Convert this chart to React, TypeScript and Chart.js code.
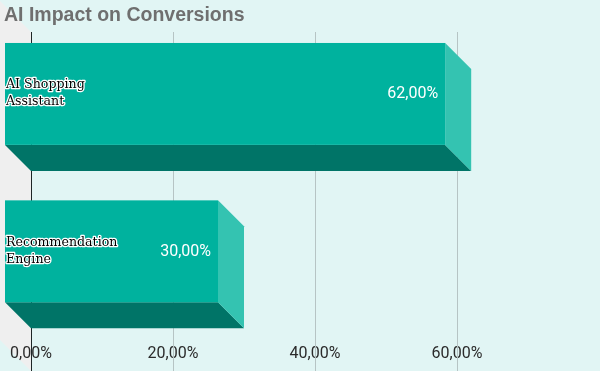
import React, { useEffect, useRef } from "react";
import { Chart, registerables } from "chart.js";

Chart.register(...registerables);

const titleText = "AI Impact on Conversions";
const categories: string[][] = [
  ["AI Shopping", "Assistant"],
  ["Recommendation", "Engine"],
];
const values: number[] = [62, 30];
const xMin = 0;
const xMax = 80;
const xStep = 20;
const hiddenTicks: number[] = [80];

const fmt = (v: number) => v.toFixed(2).replace(".", ",") + "%";

const BG = "#E1F5F4";
const WALL = "#EFEFEF";
const FRONT = "#00B29E";
const SIDE = "#34C3B1";
const BOTTOM = "#007467";
const GRID = "#B6C4C4";
const ZERO = "#1E2626";
const DEPTH = 26;
const NUM_FONT = "Roboto";

const threeD = {
  id: "threeD",
  beforeDraw(chart: any) {
    const { ctx, width, height } = chart;
    const xs = chart.scales.x;
    ctx.save();
    ctx.fillStyle = BG;
    ctx.fillRect(0, 0, width, height);
    const x0 = xs.getPixelForValue(0);
    // left wall
    ctx.fillStyle = WALL;
    ctx.beginPath();
    ctx.moveTo(x0 - 31 - DEPTH, 1 - DEPTH);
    ctx.lineTo(x0, 32);
    ctx.lineTo(x0, height);
    ctx.lineTo(x0 - 31 - DEPTH, height - 31 - DEPTH);
    ctx.closePath();
    ctx.fill();
    ctx.restore();
  },
  beforeDatasetsDraw(chart: any) {
    const { ctx, height } = chart;
    const xs = chart.scales.x;
    ctx.save();
    ctx.lineWidth = 1;
    xs.ticks.forEach((t: any) => {
      if (hiddenTicks.includes(t.value)) return;
      const x = Math.round(xs.getPixelForValue(t.value)) + 0.5;
      ctx.strokeStyle = t.value === 0 ? ZERO : GRID;
      ctx.beginPath();
      ctx.moveTo(x, 32);
      ctx.lineTo(x, height);
      ctx.stroke();
    });
    ctx.restore();
  },
  afterDatasetsDraw(chart: any) {
    const { ctx } = chart;
    const meta = chart.getDatasetMeta(0);
    ctx.save();
    meta.data.forEach((el: any, i: number) => {
      const p = el.getProps(["x", "y", "base", "height"], true);
      const bl = Math.min(p.base, p.x);
      const br = Math.max(p.base, p.x);
      const bt = p.y - p.height / 2;
      const bb = p.y + p.height / 2;
      const fl = bl - DEPTH;
      const fr = br - DEPTH;
      const ft = bt - DEPTH;
      const fb = bb - DEPTH;
      // bottom face
      ctx.fillStyle = BOTTOM;
      ctx.beginPath();
      ctx.moveTo(fl, fb);
      ctx.lineTo(fr, fb);
      ctx.lineTo(br, bb);
      ctx.lineTo(bl, bb);
      ctx.closePath();
      ctx.fill();
      // side face
      ctx.fillStyle = SIDE;
      ctx.beginPath();
      ctx.moveTo(fr, ft);
      ctx.lineTo(br, bt);
      ctx.lineTo(br, bb);
      ctx.lineTo(fr, fb);
      ctx.closePath();
      ctx.fill();
      // front face
      ctx.fillStyle = FRONT;
      ctx.fillRect(fl, ft, fr - fl, fb - ft);

      const fc = (ft + fb) / 2;
      // value label
      ctx.font = `16px ${NUM_FONT}`;
      ctx.fillStyle = "#FFFFFF";
      ctx.textAlign = "right";
      ctx.textBaseline = "middle";
      ctx.fillText(fmt(values[i]), fr - 7, fc + 0.5);

      // category label
      const lines = categories[i];
      ctx.font = "12.6px 'DejaVu Serif'";
      ctx.textAlign = "left";
      ctx.lineJoin = "round";
      ctx.lineWidth = 2.5;
      ctx.strokeStyle = "#FFFFFF";
      ctx.fillStyle = "#000000";
      const lh = 17;
      const startY = fc - 0.5 - ((lines.length - 1) * lh) / 2;
      lines.forEach((ln, k) => {
        const y = startY + k * lh;
        ctx.strokeText(ln, fl + 1, y);
        ctx.fillText(ln, fl + 1, y);
      });
    });
    ctx.restore();
  },
};

export default function App() {
  const ref = useRef<HTMLCanvasElement | null>(null);
  useEffect(() => {
    document.body.style.margin = "0";
    const canvas = ref.current;
    if (!canvas) return;
    const chart = new Chart(canvas, {
      type: "bar",
      data: {
        labels: categories.map((c) => c.join(" ")),
        datasets: [
          {
            data: values,
            backgroundColor: "rgba(0,0,0,0)",
            borderWidth: 0,
            categoryPercentage: 1,
            barPercentage: 102 / 157.5,
          },
        ],
      },
      options: {
        indexAxis: "y",
        responsive: false,
        animation: false,
        devicePixelRatio: 1,
        layout: { padding: { left: 4, right: 1, top: 0, bottom: 0 } },
        plugins: {
          legend: { display: false },
          tooltip: { enabled: false },
          title: {
            display: true,
            text: titleText,
            align: "start",
            color: "#6F6F6F",
            font: { family: "'Liberation Sans', Arial, sans-serif", size: 19.5, weight: "bold" },
            padding: { top: 4.3, bottom: 13.55 },
          },
        },
        scales: {
          x: {
            type: "linear",
            min: xMin,
            max: xMax,
            grid: { display: false, drawTicks: false },
            border: { display: false },
            ticks: {
              stepSize: xStep,
              mirror: true,
              padding: -7.6,
              maxRotation: 0,
              autoSkip: false,
              color: "#2B2B2B",
              font: { family: NUM_FONT, size: 16 },
              callback: (v: any) => (hiddenTicks.includes(Number(v)) ? "" : fmt(Number(v))),
            },
            afterFit: (s: any) => {
              s.height = 15;
            },
          },
          y: {
            type: "category",
            grid: { display: false, drawTicks: false },
            border: { display: false },
            ticks: { display: false },
            afterFit: (s: any) => {
              s.width = 27;
            },
          },
        },
      },
      plugins: [threeD],
    } as any);
    return () => chart.destroy();
  }, []);
  return (
    <div style={{ width: 600, height: 371 }}>
      <canvas ref={ref} width={600} height={371} style={{ display: "block" }} />
    </div>
  );
}
